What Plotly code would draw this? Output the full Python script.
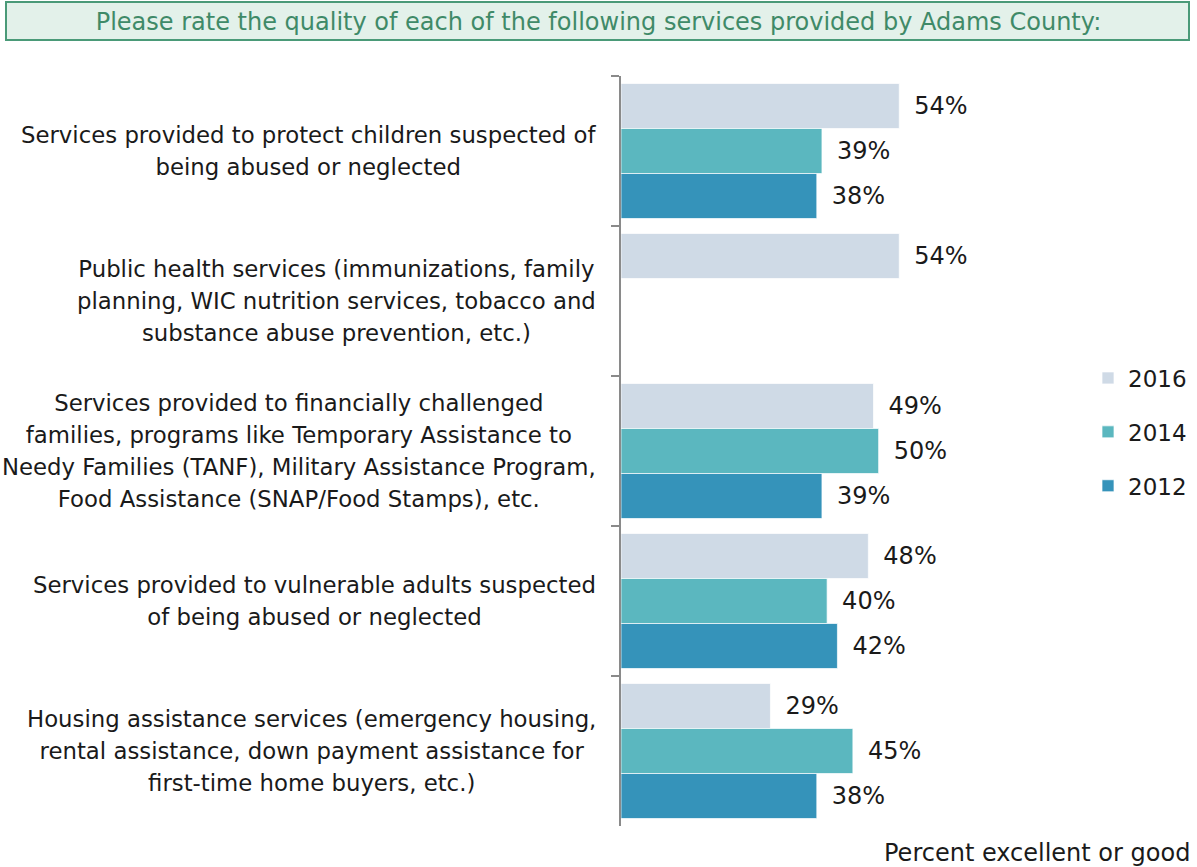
import plotly.graph_objects as go

# Survey categories (top to bottom) and share rating each service excellent or good
categories = [
    "Services provided to protect children suspected of<br>being abused or neglected",
    "Public health services (immunizations, family<br>planning, WIC nutrition services, tobacco and<br>substance abuse prevention, etc.)",
    "Services provided to financially challenged<br>families, programs like Temporary Assistance to<br>Needy Families (TANF), Military Assistance Program,<br>Food Assistance (SNAP/Food Stamps), etc.",
    "Services provided to vulnerable adults suspected<br>of being abused or neglected",
    "Housing assistance services (emergency housing,<br>rental assistance, down payment assistance for<br>first-time home buyers, etc.)",
]
years = ["2016", "2014", "2012"]
values_2016 = [54, 54, 49, 48, 29]
values_2014 = [39, None, 50, 40, 45]
values_2012 = [38, None, 39, 42, 38]
colors = ["#CFDAE6", "#5BB7BF", "#3593BA"]

title_text = "Please rate the quality of each of the following services provided by Adams County:"
axis_title = "Percent excellent or good"

FONT = "DejaVu Sans"
W, H = 1197, 867
M_L, M_R, M_T, M_B = 621, 138, 76, 41
X_MAX = 85
plot_w = W - M_L - M_R
plot_h = H - M_T - M_B


def px_x(px):
    return (px - M_L) / plot_w


def px_y(py):
    return (H - M_B - py) / plot_h


fig = go.Figure()
for year, vals, col in zip(years, [values_2016, values_2014, values_2012], colors):
    labels = ["" if v is None else "\u2002" + f"{v}%" for v in vals]
    fig.add_trace(go.Bar(
        name=year,
        y=categories,
        x=vals,
        orientation="h",
        marker=dict(color=col, line=dict(color="rgba(255,255,255,0.7)", width=1)),
        text=labels,
        textposition="outside",
        textfont=dict(family=FONT, size=24, color="#1a1a1a"),
        cliponaxis=False,
        constraintext="none",
        legendgroup=year,
        hoverinfo="skip",
    ))

# Category labels, centred line by line, right edge beside the axis
for cat in categories:
    fig.add_annotation(
        x=0, xref="paper", xanchor="right", xshift=-23,
        y=cat, yref="y", yanchor="middle",
        text=f"<span style='font-size:22.8px'>{cat}</span>",
        align="center", showarrow=False,
        font=dict(family=FONT, size=24.6, color="#1a1a1a"),
    )

fig.add_annotation(
    x=px_x(1192), xref="paper", xanchor="right",
    y=px_y(853), yref="paper", yanchor="middle",
    text=axis_title, showarrow=False,
    font=dict(family=FONT, size=24, color="#1a1a1a"),
)

# Header box
fig.add_shape(
    type="rect", xref="paper", yref="paper",
    x0=px_x(6), x1=px_x(1189), y0=px_y(40), y1=px_y(2),
    fillcolor="#E3F1EA", line=dict(color="#4A9A78", width=2), layer="below",
)

fig.update_layout(
    width=W, height=H,
    margin=dict(l=M_L, r=M_R, t=M_T, b=M_B, autoexpand=False),
    paper_bgcolor="white", plot_bgcolor="white",
    title=dict(text=title_text, x=0.5, xanchor="center", y=1 - 22 / H, yanchor="middle",
               font=dict(family=FONT, size=24, color="#3F8A68")),
    barmode="group", bargap=0.1, bargroupgap=0,
    showlegend=True,
    legend=dict(
        x=px_x(1088), xanchor="left", y=px_y(432), yanchor="middle",
        traceorder="grouped", tracegroupgap=21,
        font=dict(family=FONT, size=23, color="#1a1a1a"),
        bgcolor="rgba(0,0,0,0)",
    ),
    xaxis=dict(range=[0, X_MAX], visible=False, fixedrange=True),
    yaxis=dict(
        autorange="reversed", showticklabels=False, showgrid=False,
        showline=True, linecolor="#8a8a8a", linewidth=1.5,
        ticks="outside", tickson="boundaries", ticklen=8,
        tickcolor="#8a8a8a", tickwidth=1.5, zeroline=False,
    ),
    font=dict(family=FONT),
)

fig.write_html("out.html")
